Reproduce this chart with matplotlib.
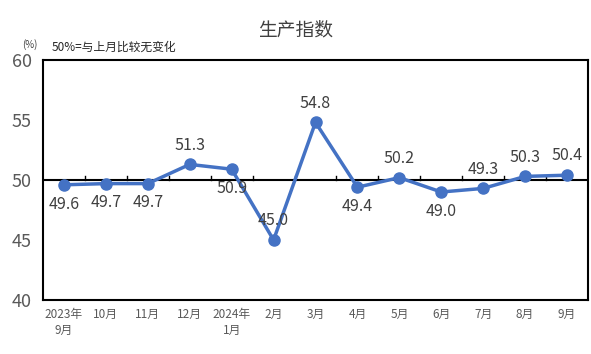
import numpy as np
import matplotlib.pyplot as plt

plt.rcParams['font.family'] = ['Noto Sans CJK SC', 'DejaVu Sans']

months = ["2023年\n9月", "10月", "11月", "12月", "2024年\n1月", "2月", "3月",
          "4月", "5月", "6月", "7月", "8月", "9月"]
values = [49.6, 49.7, 49.7, 51.3, 50.9, 45.0, 54.8, 49.4, 50.2, 49.0, 49.3, 50.3, 50.4]
# label above (True) or below (False) the point
above = [False, False, False, True, False, True, True, False, True, False, True, True, True]

blue = "#4472C4"
fig = plt.figure(figsize=(5.91, 3.54), dpi=100)
ax = fig.add_axes([43/591, 1 - 300/354, 545/591, 240/354])

x = np.arange(len(values))
ax.plot(x, values, color=blue, lw=2.5, marker="o", markersize=8, zorder=3)

# 50 reference line with small category ticks
ax.axhline(50, color="black", lw=1.5, zorder=2)
for b in np.arange(len(values) - 1) + 0.5:
    ax.plot([b, b], [50, 50.35], color="black", lw=1, zorder=2)

for xi, v, up in zip(x, values, above):
    if up:
        ax.text(xi, v + 0.9, f"{v:.1f}", ha="center", va="bottom", fontsize=11.5, color="#404040")
    else:
        ax.text(xi, v - 0.9, f"{v:.1f}", ha="center", va="top", fontsize=11.5, color="#404040")

ax.set_xlim(-0.5, len(values) - 0.5)
ax.set_ylim(40, 60)
ax.set_yticks([40, 45, 50, 55, 60])
ax.tick_params(axis="y", length=0, labelsize=13, labelcolor="#595959", pad=8)
ax.set_xticks(x)
ax.set_xticklabels(months, fontsize=8.5, color="#595959", linespacing=1.3)
ax.tick_params(axis="x", length=0, pad=6)
for s in ax.spines.values():
    s.set_linewidth(1.5)
    s.set_color("black")

fig.text(296/591, 1 - 30/354, "生产指数", ha="center", va="center", fontsize=13.5, color="#404040")
fig.text(22/591, 1 - 45/354, "(%)", ha="left", va="center", fontsize=7, color="#404040")
fig.text(52/591, 1 - 47/354, "50%=与上月比较无变化", ha="left", va="center", fontsize=8.5, color="#262626")

fig.savefig("out.png", dpi=100)
